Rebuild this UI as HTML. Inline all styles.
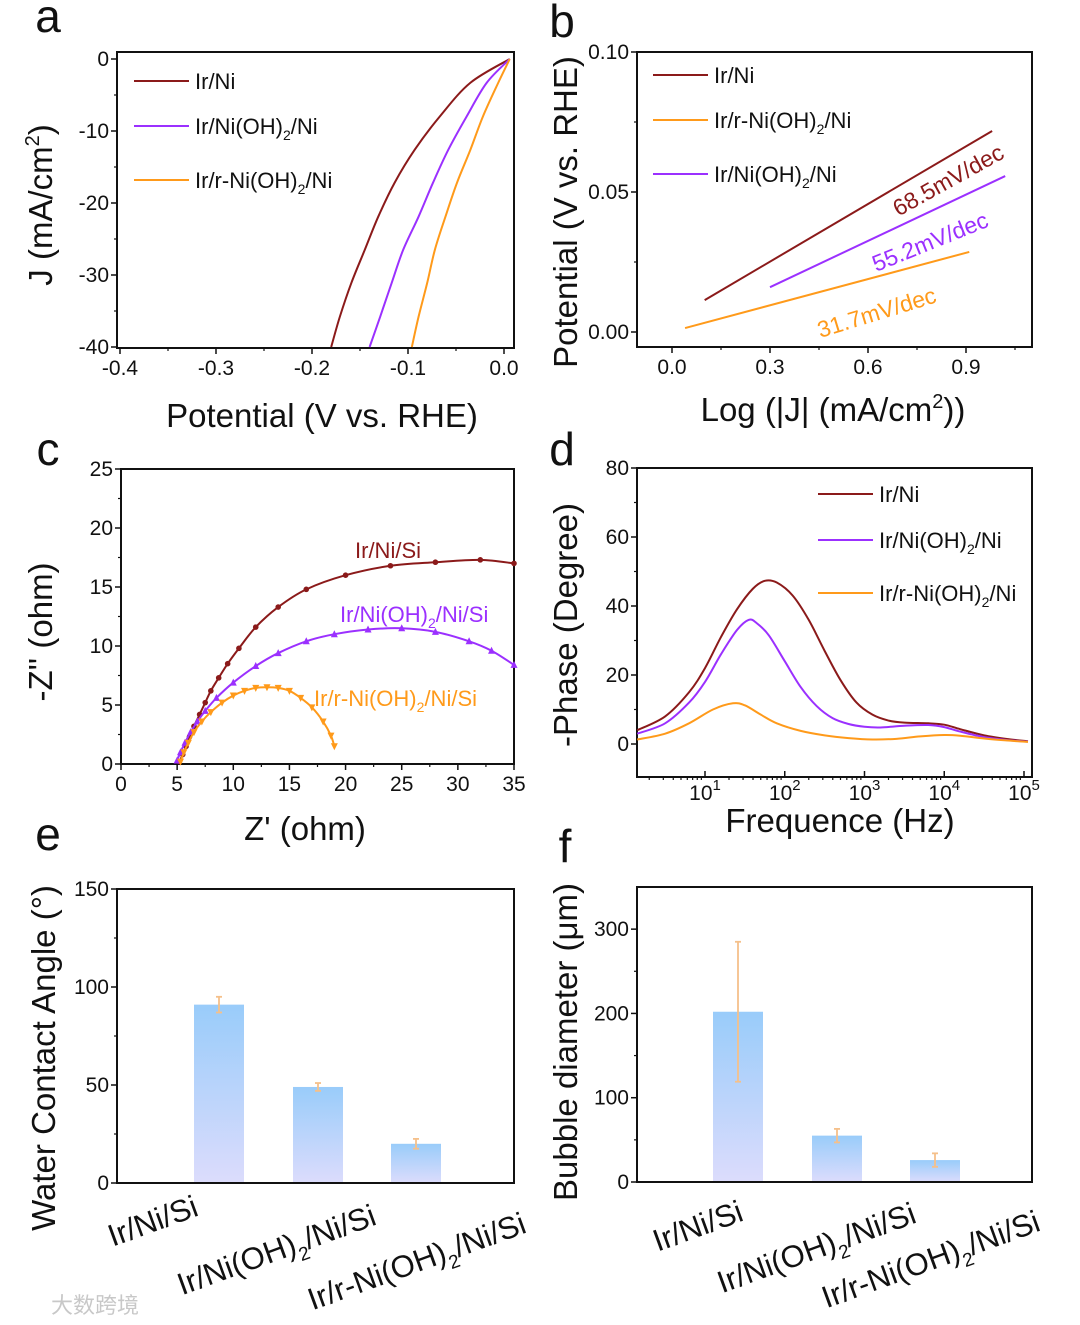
<!DOCTYPE html>
<html><head><meta charset="utf-8"><style>
body{margin:0;background:#fff}
svg{display:block;font-family:"Liberation Sans","Noto Sans CJK SC",sans-serif}
</style></head><body>
<svg id="fig" width="1080" height="1325" viewBox="0 0 1080 1325" xmlns="http://www.w3.org/2000/svg">
<defs><linearGradient id="barg" x1="0" y1="0" x2="0" y2="1"><stop offset="0" stop-color="#99ccfa"/><stop offset="1" stop-color="#dcdcfc"/></linearGradient></defs>
<g id="root"></g>
</svg>
<script>
// ---- data ----
const aIrNi=[[0.006,0],[-0.035,-3.3],[-0.067,-8],[-0.093,-12.6],[-0.114,-17.2],[-0.131,-21.9],[-0.145,-26.5],[-0.159,-31.1],[-0.171,-35.8],[-0.18,-40]];
const aIrNiOH=[[0.006,0],[-0.018,-3.3],[-0.039,-8],[-0.058,-12.6],[-0.074,-17.2],[-0.089,-21.9],[-0.105,-26.5],[-0.117,-31.1],[-0.129,-35.8],[-0.14,-40]];
const aIrR=[[0.006,0],[-0.006,-3.3],[-0.022,-8],[-0.035,-12.6],[-0.049,-17.2],[-0.061,-21.9],[-0.072,-26.5],[-0.08,-31.1],[-0.089,-35.8],[-0.096,-40]];
const bIrNi=[[0.1,0.0114],[0.98,0.0718]];
const bIrR=[[0.04,0.0014],[0.91,0.0286]];
const bIrNiOH=[[0.3,0.016],[1.02,0.0557]];
const cIrNi=[[5.2,0.2],[5.5,0.8],[5.8,1.5],[6.1,2.3],[6.5,3.2],[7,4.2],[7.5,5.2],[8,6.2],[8.7,7.3],[9.5,8.5],[10.5,9.8],[12,11.6],[14,13.3],[16.5,14.8],[20,16],[24,16.8],[28,17.1],[32,17.3],[35,17]];
const cIrNiOH=[[5,0.3],[5.3,1],[5.7,1.8],[6.2,2.7],[6.8,3.6],[7.5,4.5],[8.5,5.6],[10,6.9],[12,8.3],[14,9.4],[16.5,10.4],[19,11],[22,11.4],[25,11.5],[28,11.2],[31,10.4],[33,9.6],[35,8.4]];
const cIrR=[[5.3,0.2],[5.6,1],[6,1.8],[6.5,2.7],[7.2,3.6],[8,4.4],[9,5.2],[10,5.8],[11,6.2],[12,6.45],[13,6.5],[14,6.45],[15,6.2],[16,5.6],[17,4.8],[18,3.6],[18.7,2.4],[19,1.5]];
const dIrNi=[[0.15,4],[0.5,8],[0.8,15],[1,22],[1.2,31],[1.4,39],[1.6,45],[1.75,47.3],[1.9,46.8],[2.1,43],[2.3,36],[2.5,27],[2.7,18.5],[2.9,12],[3.1,8.5],[3.3,6.8],[3.5,6.2],[3.8,6],[4,5.6],[4.2,4.3],[4.5,2.5],[4.8,1.4],[5.05,0.8]];
const dIrNiOH=[[0.15,3],[0.5,6],[0.8,12],[1,18],[1.2,26],[1.4,33],[1.55,36],[1.65,35],[1.8,31.5],[2,24],[2.2,16.5],[2.4,11],[2.6,7.5],[2.8,5.8],[3,5],[3.2,4.8],[3.5,5.3],[3.8,5.5],[4,4.9],[4.2,3.6],[4.5,2],[4.8,1.1],[5.05,0.7]];
const dIrR=[[0.15,1.3],[0.5,3],[0.8,6],[1.1,10],[1.35,11.8],[1.5,11.2],[1.7,8.5],[1.9,6],[2.2,3.8],[2.5,2.5],[2.8,1.7],[3.1,1.3],[3.4,1.5],[3.7,2.2],[4,2.6],[4.2,2.4],[4.5,1.6],[4.8,1],[5.05,0.6]];
const eValues=[91,49,20];
const eErrors=[4,2,2.5];
const fValues=[202,55,26];
const fErrors=[83,8,8];
const aTicksX=[-0.4,-0.3,-0.2,-0.1,0.0];
const aTicksY=[0,-10,-20,-30,-40];
const bTicksX=[0,0.3,0.6,0.9];
const bTicksY=[0,0.05,0.1];
const cTicksX=[0,5,10,15,20,25,30,35];
const cTicksY=[0,5,10,15,20,25];
const dTicksX=[1,2,3,4,5];
const dTicksY=[0,20,40,60,80];
const eTicksY=[0,50,100,150];
const fTicksY=[0,100,200,300];

const NS="http://www.w3.org/2000/svg";
const root=document.getElementById('root');
const RED="#8b1a1a",PUR="#9b30ff",ORA="#ff9a1a";
const TS=21, TT=33;
function el(tag,attrs,parent){const e=document.createElementNS(NS,tag);for(const k in attrs)e.setAttribute(k,attrs[k]);(parent||root).appendChild(e);return e;}
function txt(s,x,y,size,opts,parent){opts=opts||{};const t=el('text',{x:x,y:y,'font-size':size,fill:opts.fill||'#111','text-anchor':opts.anchor||'middle'},parent);if(opts.rot)t.setAttribute('transform',`rotate(${opts.rot} ${x} ${y})`);t.innerHTML=s;return t;}
function lin(d0,d1,r0,r1){return v=>r0+(v-d0)*(r1-r0)/(d1-d0);}
function smooth(pts){let d=`M${pts[0][0]},${pts[0][1]}`;for(let i=0;i<pts.length-1;i++){const p0=pts[Math.max(0,i-1)],p1=pts[i],p2=pts[i+1],p3=pts[Math.min(pts.length-1,i+2)];const c1=[p1[0]+(p2[0]-p0[0])/6,p1[1]+(p2[1]-p0[1])/6],c2=[p2[0]-(p3[0]-p1[0])/6,p2[1]-(p3[1]-p1[1])/6];d+=`C${c1[0]},${c1[1]} ${c2[0]},${c2[1]} ${p2[0]},${p2[1]}`;}return d;}
function box(g,x0,y0,x1,y1){el('rect',{x:x0,y:y0,width:x1-x0,height:y1-y0,fill:'none',stroke:'#111','stroke-width':2},g);}
function yTicks(g,ticks,sy,x0,fmt,minor){ticks.forEach(v=>{const y=sy(v);el('line',{x1:x0-6,y1:y,x2:x0,y2:y,stroke:'#111','stroke-width':1.5},g);txt(fmt(v),x0-8,y+7,TS,{anchor:'end'},g);});if(minor)minor.forEach(v=>{el('line',{x1:x0-3,y1:sy(v),x2:x0,y2:sy(v),stroke:'#111','stroke-width':1.2},g);});}
function xTicks(g,ticks,sx,y0,fmt,minor){ticks.forEach(v=>{const x=sx(v);el('line',{x1:x,y1:y0,x2:x,y2:y0+6,stroke:'#111','stroke-width':1.5},g);txt(fmt(v),x,y0+27,TS,{},g);});if(minor)minor.forEach(v=>{el('line',{x1:sx(v),y1:y0,x2:sx(v),y2:y0+3,stroke:'#111','stroke-width':1.2},g);});}
function curve(g,data,sx,sy,color,name){const p=el('path',{d:smooth(data.map(d=>[sx(d[0]),sy(d[1])])),fill:'none',stroke:color,'stroke-width':2},g);return p;}
function legend(g,x,y,color,label,name){const lg=el('g',{},g);el('line',{x1:x,y1:y,x2:x+55,y2:y,stroke:color,'stroke-width':2},lg);txt(label,x+61,y+8,22,{anchor:'start'},lg);}
function group(name){const g=el('g',{});return g;}
const SUB2='<tspan font-size="14" dy="6">2</tspan><tspan dy="-6">';

// ---- panel a ----
(function(){const g=group('panel-a');
const sx=lin(-0.4,0,120,504),sy=lin(0,-40,59,347);
box(g,117,52,514,348);
yTicks(g,aTicksY,sy,117,v=>v,[-5,-15,-25,-35]);
xTicks(g,aTicksX,sx,348,v=>v.toFixed(1),[-0.35,-0.25,-0.15,-0.05]);
curve(g,aIrNi,sx,sy,RED,'curve-ir-ni');curve(g,aIrNiOH,sx,sy,PUR,'curve-ir-nioh2-ni');curve(g,aIrR,sx,sy,ORA,'curve-ir-r-nioh2-ni');
legend(g,134,81,RED,'Ir/Ni','legend-ir-ni');legend(g,134,126,PUR,'Ir/Ni(OH)'+SUB2+'/Ni</tspan>','legend-ir-nioh2-ni');legend(g,134,180,ORA,'Ir/r-Ni(OH)'+SUB2+'/Ni</tspan>','legend-ir-r-nioh2-ni');
txt('a',48,32,46,{},g);
txt('Potential (V vs. RHE)',322,427,TT,{},g);
txt('J (mA/cm<tspan font-size="20" dy="-13">2</tspan><tspan dy="13">)</tspan>',52,205,TT,{rot:-90},g);
})();

// ---- panel b ----
(function(){const g=group('panel-b');
const sx=lin(0,0.9,672,966),sy=lin(0,0.1,332,52);
box(g,637,52,1032,347);
yTicks(g,bTicksY,sy,637,v=>v.toFixed(2),[0.025,0.075]);
xTicks(g,bTicksX,sx,347,v=>v.toFixed(1),[0.15,0.45,0.75,1.05]);
[[bIrNi,RED,'line-ir-ni'],[bIrR,ORA,'line-ir-r-nioh2-ni'],[bIrNiOH,PUR,'line-ir-nioh2-ni']].forEach(s=>{const l=el('line',{x1:sx(s[0][0][0]),y1:sy(s[0][0][1]),x2:sx(s[0][1][0]),y2:sy(s[0][1][1]),stroke:s[1],'stroke-width':2},g);});
legend(g,653,75,RED,'Ir/Ni','legend-ir-ni-b');legend(g,653,120,ORA,'Ir/r-Ni(OH)'+SUB2+'/Ni</tspan>','legend-ir-r-b');legend(g,653,174,PUR,'Ir/Ni(OH)'+SUB2+'/Ni</tspan>','legend-ir-nioh2-b');
txt('68.5mV/dec',952,187,23,{rot:-29,fill:RED},g);
txt('55.2mV/dec',933,249,23,{rot:-22,fill:PUR},g);
txt('31.7mV/dec',879,320,23,{rot:-17,fill:ORA},g);
txt('b',562,37,46,{},g);
txt('Log (|J| (mA/cm<tspan font-size="20" dy="-13">2</tspan><tspan dy="13">))</tspan>',833,421,TT,{},g);
txt('Potential (V vs. RHE)',577,212,TT,{rot:-90},g);
})();

// ---- panel c ----
(function(){const g=group('panel-c');
const sx=lin(0,35,121,514),sy=lin(0,25,764,469);
box(g,121,469,514,764);
yTicks(g,cTicksY,sy,121,v=>v,[2.5,7.5,12.5,17.5,22.5]);
xTicks(g,cTicksX,sx,764,v=>v,[2.5,7.5,12.5,17.5,22.5,27.5,32.5]);
const series=[[cIrNi,RED,'c-ir-ni'],[cIrNiOH,PUR,'c-ir-nioh2'],[cIrR,ORA,'c-ir-r']];
series.forEach((s,k)=>{curve(g,s[0],sx,sy,s[1],'nyquist-'+s[2]);s[0].forEach(d=>{const x=sx(d[0]),y=sy(d[1]);let m;
 if(k===0)m=el('circle',{cx:x,cy:y,r:2.8,fill:s[1]},g);
 else if(k===1)m=el('polygon',{points:`${x},${y-4} ${x-3.5},${y+3} ${x+3.5},${y+3}`,fill:s[1]},g);
 else m=el('polygon',{points:`${x},${y+4} ${x-3.5},${y-3} ${x+3.5},${y-3}`,fill:s[1]},g);
 });});
txt('Ir/Ni/Si',355,558,22,{anchor:'start',fill:RED},g);
txt('Ir/Ni(OH)'+SUB2+'/Ni/Si</tspan>',340,622,22,{anchor:'start',fill:PUR},g);
txt('Ir/r-Ni(OH)'+SUB2+'/Ni/Si</tspan>',314,706,22,{anchor:'start',fill:ORA},g);
txt('c',48,465,46,{},g);
txt("Z' (ohm)",305,840,TT,{},g);
txt("-Z'' (ohm)",52,632,TT,{rot:-90},g);
})();

// ---- panel d ----
(function(){const g=group('panel-d');
const sx=lin(1,5,705,1024),sy=lin(0,80,744,468);
box(g,637,468,1032,777);
yTicks(g,dTicksY,sy,637,v=>v,[10,30,50,70]);
const minor=[];for(let dec=0;dec<5;dec++)for(let m=2;m<10;m++){const v=dec+Math.log10(m);if(v>0.15&&v<5.1)minor.push(v);}
xTicks(g,[],sx,777,v=>v,minor);
dTicksX.forEach(v=>{const x=sx(v);el('line',{x1:x,y1:777,x2:x,y2:771,stroke:'#111','stroke-width':1.5},g);txt('10<tspan font-size="15" dy="-10">'+v+'</tspan>',x,800,TS,{},g);});
curve(g,dIrNi,sx,sy,RED,'phase-ir-ni');curve(g,dIrNiOH,sx,sy,PUR,'phase-ir-nioh2-ni');curve(g,dIrR,sx,sy,ORA,'phase-ir-r-nioh2-ni');
legend(g,818,494,RED,'Ir/Ni','legend-ir-ni-d');legend(g,818,540,PUR,'Ir/Ni(OH)'+SUB2+'/Ni</tspan>','legend-ir-nioh2-d');legend(g,818,593,ORA,'Ir/r-Ni(OH)'+SUB2+'/Ni</tspan>','legend-ir-r-d');
txt('d',562,465,46,{},g);
txt('Frequence (Hz)',840,832,TT,{},g);
txt('-Phase (Degree)',577,625,TT,{rot:-90},g);
})();

// ---- bars ----
function barPanel(name,x0,y0,x1,y1,vmax,ticks,minor,vals,errs,centers,labelPos){const g=group(name);
 const sy=lin(0,vmax,y1,y0);
 vals.forEach((v,i)=>{const b=el('rect',{x:centers[i]-25,y:sy(v),width:50,height:y1-sy(v),fill:'url(#barg)'},g);
  const e=el('g',{stroke:'#f5c08a','stroke-width':1.8},g);
  const ya=sy(v+errs[i]),yb=sy(v-errs[i]),c=centers[i];el('line',{x1:c,y1:ya,x2:c,y2:yb},e);el('line',{x1:c-3,y1:ya,x2:c+3,y2:ya},e);el('line',{x1:c-3,y1:yb,x2:c+3,y2:yb},e);});
 box(g,x0,y0,x1,y1);
 yTicks(g,ticks,sy,x0,v=>v,minor);
 const labels=['Ir/Ni/Si','Ir/Ni(OH)<tspan font-size="19" dy="9">2</tspan><tspan dy="-9">/Ni/Si</tspan>','Ir/r-Ni(OH)<tspan font-size="19" dy="9">2</tspan><tspan dy="-9">/Ni/Si</tspan>'];
 labels.forEach((l,i)=>{txt(l,labelPos[i][0],labelPos[i][1],31,{anchor:'end',rot:-20},g);});
 return g;}
(function(){const g=barPanel('panel-e',117,889,514,1183,150,eTicksY,[25,75,125],eValues,eErrors,[219,318,416],[[200,1215],[378,1224],[528,1232]]);
 txt('e',48,850,46,{},g);
 txt('Water  Contact Angle (°)',55,1058,33,{rot:-90},g);})();
(function(){const g=barPanel('panel-f',637,887,1032,1182,350,fTicksY,[50,150,250],fValues,fErrors,[738,837,935],[[745,1220],[918,1222],[1042,1230]]);
 txt('f',565,862,46,{},g);
 txt('Bubble diameter (μm)',577,1042,33,{rot:-90},g);})();
txt('大数跨境',95,1313,22,{fill:'#c8c8c8'});
</script>
</body></html>
